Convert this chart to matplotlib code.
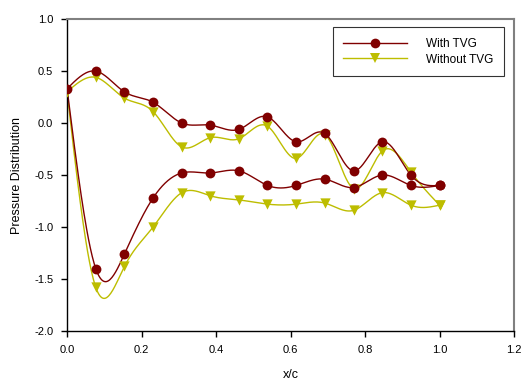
import numpy as np
import matplotlib
matplotlib.use("Agg")
import matplotlib.pyplot as plt
from matplotlib.lines import Line2D

plt.rcParams['font.family'] = ['Liberation Sans', 'DejaVu Sans']

# DATA
xc = [0.0, 0.077, 0.154, 0.231, 0.308, 0.385, 0.462, 0.538, 0.615, 0.692, 0.769, 0.846, 0.923, 1.0]
with_upper = [0.33, 0.50, 0.30, 0.20, 0.00, -0.02, -0.06, 0.06, -0.18, -0.10, -0.46, -0.18, -0.50, -0.60]
with_lower = [0.33, -1.40, -1.26, -0.72, -0.48, -0.48, -0.46, -0.60, -0.60, -0.54, -0.62, -0.50, -0.60, -0.60]
without_upper = [0.30, 0.44, 0.24, 0.11, -0.23, -0.14, -0.15, -0.03, -0.34, -0.11, -0.63, -0.27, -0.47, -0.79]
without_lower = [0.30, -1.58, -1.38, -1.00, -0.67, -0.70, -0.74, -0.78, -0.78, -0.77, -0.84, -0.67, -0.79, -0.79]

xticks = [0.0, 0.2, 0.4, 0.6, 0.8, 1.0, 1.2]
yticks = [-2.0, -1.5, -1.0, -0.5, 0.0, 0.5, 1.0]

c_with = '#800000'
c_without = '#bdbd00'


def spline(x, y, n=400):
    # natural cubic spline through the points, for the smooth connecting line
    x = np.asarray(x, float)
    y = np.asarray(y, float)
    h = np.diff(x)
    m = len(x)
    A = np.zeros((m, m))
    b = np.zeros(m)
    A[0, 0] = A[-1, -1] = 1
    for i in range(1, m - 1):
        A[i, i - 1] = h[i - 1]
        A[i, i] = 2 * (h[i - 1] + h[i])
        A[i, i + 1] = h[i]
        b[i] = 3 * ((y[i + 1] - y[i]) / h[i] - (y[i] - y[i - 1]) / h[i - 1])
    c = np.linalg.solve(A, b)
    xs = np.linspace(x[0], x[-1], n)
    idx = np.clip(np.searchsorted(x, xs) - 1, 0, m - 2)
    dx = xs - x[idx]
    bb = (y[idx + 1] - y[idx]) / h[idx] - h[idx] * (2 * c[idx] + c[idx + 1]) / 3
    dd = (c[idx + 1] - c[idx]) / (3 * h[idx])
    ys = y[idx] + bb * dx + c[idx] * dx ** 2 + dd * dx ** 3
    return xs, ys


fig = plt.figure(figsize=(5.24, 3.83), dpi=100)
ax = fig.add_axes([0.128, 0.136, 0.853, 0.814])

for yv, col in [(without_upper, c_without), (without_lower, c_without),
                (with_upper, c_with), (with_lower, c_with)]:
    xs, ys = spline(xc, yv)
    ax.plot(xs, ys, color=col, lw=1.0, zorder=2)

ax.scatter(xc, without_upper, marker='v', s=55, color=c_without, zorder=3, linewidths=0)
ax.scatter(xc[1:], without_lower[1:], marker='v', s=55, color=c_without, zorder=3, linewidths=0)
ax.scatter(xc, with_upper, marker='o', s=50, color=c_with, zorder=4, linewidths=0)
ax.scatter(xc[1:], with_lower[1:], marker='o', s=50, color=c_with, zorder=4, linewidths=0)

ax.set_xlim(0, 1.2)
ax.set_ylim(-2.0, 1.0)
ax.set_xticks(xticks)
ax.set_yticks(yticks)
ax.set_xticklabels(['%.1f' % v for v in xticks], fontsize=8)
ax.set_yticklabels(['%.1f' % v for v in yticks], fontsize=8)
ax.tick_params(direction='out', length=4, width=1, pad=6)
ax.spines['top'].set_color('#808080')
ax.spines['right'].set_color('#808080')
ax.spines['top'].set_linewidth(1.5)
ax.spines['right'].set_linewidth(1.5)
ax.spines['left'].set_linewidth(1.0)
ax.spines['bottom'].set_linewidth(1.0)

ax.set_xlabel('x/c', fontsize=9, labelpad=10)
ax.set_ylabel('Pressure Distribution', fontsize=9, labelpad=8)

handles = [Line2D([], [], color=c_with, marker='o', markersize=7, markeredgewidth=0, lw=1),
           Line2D([], [], color=c_without, marker='v', markersize=7, markeredgewidth=0, lw=1)]
leg = ax.legend(handles, ['With TVG', 'Without TVG'], loc='upper right',
                bbox_to_anchor=(0.985, 0.985), fontsize=8.5, frameon=True, fancybox=False,
                handlelength=5.4, borderpad=0.9, labelspacing=0.3, handletextpad=1.6,
                borderaxespad=0.3)
leg.get_frame().set_edgecolor('black')
leg.get_frame().set_linewidth(0.8)

fig.savefig('out.png', dpi=100)
